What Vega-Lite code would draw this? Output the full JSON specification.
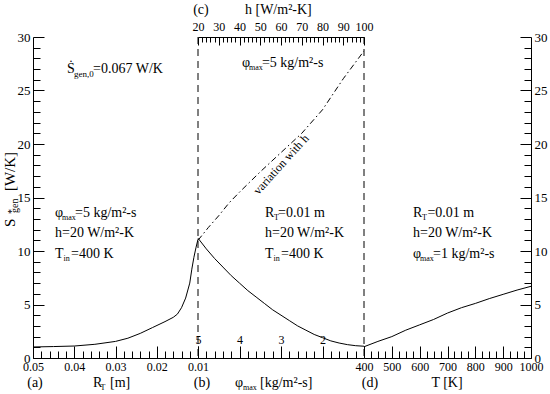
{
  "$schema": "https://vega.github.io/schema/vega-lite/v6.json",
  "width": 498,
  "height": 321,
  "autosize": {"type": "none"},
  "padding": {"left": 33, "top": 37, "right": 19, "bottom": 36},
  "background": "white",
  "config": {
    "view": {"stroke": null},
    "font": "Times New Roman, Liberation Serif, DejaVu Serif, serif",
    "text": {"font": "Times New Roman, Liberation Serif, DejaVu Serif, serif", "color": "black"},
    "axis": {"domainColor": "black", "tickColor": "black", "labelColor": "black", "labelFont": "Times New Roman, Liberation Serif, DejaVu Serif, serif", "labelFontSize": 12, "grid": false, "labelFlush": false, "labelOverlap": false, "domainWidth": 1, "tickWidth": 1}
  },
  "datasets": {
    "a_curve": [{"R":0.05,"S":1.03},{"R":0.045,"S":1.07},{"R":0.04,"S":1.12},{"R":0.035,"S":1.28},{"R":0.03,"S":1.55},{"R":0.027,"S":1.85},{"R":0.024,"S":2.3},{"R":0.021,"S":2.85},{"R":0.018,"S":3.4},{"R":0.016,"S":3.8},{"R":0.015,"S":4.1},{"R":0.014,"S":4.7},{"R":0.013,"S":5.6},{"R":0.012,"S":7.0},{"R":0.0115,"S":8.3},{"R":0.011,"S":9.4},{"R":0.0105,"S":10.3},{"R":0.01,"S":11.1}],
    "b_curve": [{"phi":5.0,"S":11.2},{"phi":4.8,"S":10.2},{"phi":4.6,"S":9.3},{"phi":4.4,"S":8.5},{"phi":4.2,"S":7.7},{"phi":4.0,"S":7.0},{"phi":3.8,"S":6.3},{"phi":3.6,"S":5.7},{"phi":3.4,"S":5.1},{"phi":3.2,"S":4.5},{"phi":3.0,"S":4.0},{"phi":2.8,"S":3.5},{"phi":2.6,"S":3.0},{"phi":2.4,"S":2.6},{"phi":2.2,"S":2.2},{"phi":2.0,"S":1.9},{"phi":1.8,"S":1.6},{"phi":1.6,"S":1.4},{"phi":1.4,"S":1.25},{"phi":1.2,"S":1.15},{"phi":1.0,"S":1.1}],
    "d_curve": [{"T":400,"S":1.05},{"T":450,"S":1.55},{"T":500,"S":2.0},{"T":550,"S":2.6},{"T":600,"S":3.1},{"T":650,"S":3.6},{"T":700,"S":4.2},{"T":750,"S":4.7},{"T":800,"S":5.1},{"T":850,"S":5.55},{"T":900,"S":5.95},{"T":950,"S":6.35},{"T":1000,"S":6.7}],
    "h_curve": [{"h":20,"S":11.0},{"h":25,"S":12.2},{"h":30,"S":13.3},{"h":35,"S":14.5},{"h":40,"S":15.5},{"h":50,"S":17.4},{"h":60,"S":19.2},{"h":70,"S":21.0},{"h":80,"S":23.2},{"h":90,"S":26.1},{"h":100,"S":28.7}],
    "a_text": [{"R":0.04176,"S":26.64,"t":"Ṡ"},{"R":0.03545,"S":26.64,"t":"=0.067 W/K"},{"R":0.04467,"S":13.18,"t":"φ"},{"R":0.03982,"S":13.18,"t":"=5 kg/m²-s"},{"R":0.04467,"S":11.31,"t":"h=20 W/m²-K"},{"R":0.04467,"S":9.35,"t":"T"},{"R":0.04079,"S":9.35,"t":"=400 K"},{"R":0.03545,"S":-2.71,"t":"R"},{"R":0.03133,"S":-2.71,"t":"[m]"}],
    "a_sub9": [{"R":0.04006,"S":26.64,"t":"gen,0"}],
    "a_sub8": [{"R":0.04297,"S":13.18,"t":"max"},{"R":0.04261,"S":9.35,"t":"in"},{"R":0.03364,"S":-2.71,"t":"T"}],
    "a_center": [{"R":0.04952,"S":-2.71,"t":"(a)"}],
    "a_rot": [{"R":0.05436,"S":12.24,"t":"S"},{"R":0.05436,"S":15.6,"t":"[W/K]"}],
    "a_rot_small": [{"R":0.05436,"S":13.46,"t":"*"},{"R":0.05364,"S":13.55,"t":"gen"}],
    "b_text": [{"phi":3.386,"S":13.18,"t":"R"},{"phi":3.072,"S":13.18,"t":"=0.01 m"},{"phi":3.386,"S":11.31,"t":"h=20 W/m²-K"},{"phi":3.386,"S":9.35,"t":"T"},{"phi":3.0,"S":9.35,"t":"=400 K"},{"phi":4.108,"S":-2.71,"t":"φ"},{"phi":3.506,"S":-2.71,"t":"[kg/m²-s]"}],
    "b_sub": [{"phi":3.169,"S":13.18,"t":"T"},{"phi":3.18,"S":9.35,"t":"in"},{"phi":3.916,"S":-2.71,"t":"max"}],
    "b_center": [{"phi":4.904,"S":-2.71,"t":"(b)"}],
    "d_text": [{"T":576,"S":13.18,"t":"R"},{"T":628,"S":13.18,"t":"=0.01 m"},{"T":576,"S":11.31,"t":"h=20 W/m²-K"},{"T":576,"S":9.35,"t":"φ"},{"T":648,"S":9.35,"t":"=1 kg/m²-s"}],
    "d_sub": [{"T":608.5,"S":13.18,"t":"T"},{"T":601,"S":9.35,"t":"max"}],
    "d_center": [{"T":421.6,"S":-2.71,"t":"(d)"},{"T":698.2,"S":-2.71,"t":"T [K]"}],
    "h_text": [{"h":41.2,"S":27.2,"t":"φ"},{"h":50.8,"S":27.2,"t":"=5 kg/m²-s"},{"h":42.65,"S":32.15,"t":"h [W/m²-K]"}],
    "h_sub": [{"h":44.6,"S":27.2,"t":"max"}],
    "h_center": [{"h":21.4,"S":32.15,"t":"(c)"}],
    "h_rot": [{"h":60.0,"S":18.1,"t":"variation with h"}],
    "a_rule": [{"R":0.01}],
    "d_rule": [{"T":400}]
  },
  "layer": [
    {"data":{"name":"a_curve"},"mark":{"type":"line","color":"black","strokeWidth":1},
     "encoding":{"x":{"field":"R","type":"quantitative","scale":{"domain":[0.05,0.01],"range":[0,165],"nice":false,"zero":false},"axis":{"orient":"bottom","values":[0.05,0.04,0.03,0.02,0.01],"format":".2f","tickSize":-12,"labelPadding":15,"title":null}},
                 "y":{"field":"S","type":"quantitative","scale":{"domain":[0,30],"nice":false,"zero":false},"axis":{"orient":"left","values":[0,5,10,15,20,25,30],"tickSize":-11,"labelPadding":14,"labelFontSize":13,"title":null}}}},
    {"data":{"name":"a_rule"},"mark":{"type":"rule","color":"black","strokeWidth":1,"strokeDash":[7,5]},
     "encoding":{"x":{"field":"R","type":"quantitative","scale":{"domain":[0.05,0.01],"range":[0,165],"nice":false,"zero":false},"axis":null}}},
    {"data":{"name":"a_text"},"mark":{"type":"text","fontSize":14,"align":"left","baseline":"alphabetic","color":"black"},
     "encoding":{"x":{"field":"R","type":"quantitative","scale":{"domain":[0.05,0.01],"range":[0,165],"nice":false,"zero":false},"axis":{"orient":"bottom","values":[0.048,0.046,0.044,0.042,0.038,0.036,0.034,0.032,0.028,0.026,0.024,0.022,0.018,0.016,0.014,0.012],"tickSize":-7,"labels":false,"domain":false,"title":null}},
                 "y":{"field":"S","type":"quantitative","scale":{"domain":[0,30],"nice":false,"zero":false},"axis":{"orient":"left","values":[1,2,3,4,6,7,8,9,11,12,13,14,16,17,18,19,21,22,23,24,26,27,28,29],"tickSize":-7,"labels":false,"domain":false,"title":null}},
                 "text":{"field":"t"}}},
    {"data":{"name":"a_sub9"},"mark":{"type":"text","fontSize":9,"align":"left","baseline":"alphabetic","dy":4,"color":"black"},
     "encoding":{"x":{"field":"R","type":"quantitative","scale":{"domain":[0.05,0.01],"range":[0,165],"nice":false,"zero":false},"axis":null},
                 "y":{"field":"S","type":"quantitative","scale":{"domain":[0,30],"nice":false,"zero":false},"axis":null},"text":{"field":"t"}}},
    {"data":{"name":"a_sub8"},"mark":{"type":"text","fontSize":8,"align":"left","baseline":"alphabetic","dy":3,"color":"black"},
     "encoding":{"x":{"field":"R","type":"quantitative","scale":{"domain":[0.05,0.01],"range":[0,165],"nice":false,"zero":false},"axis":null},
                 "y":{"field":"S","type":"quantitative","scale":{"domain":[0,30],"nice":false,"zero":false},"axis":null},"text":{"field":"t"}}},
    {"data":{"name":"a_center"},"mark":{"type":"text","fontSize":14,"align":"center","baseline":"alphabetic","color":"black"},
     "encoding":{"x":{"field":"R","type":"quantitative","scale":{"domain":[0.05,0.01],"range":[0,165],"nice":false,"zero":false},"axis":null},
                 "y":{"field":"S","type":"quantitative","scale":{"domain":[0,30],"nice":false,"zero":false},"axis":null},"text":{"field":"t"}}},
    {"data":{"name":"a_rot"},"mark":{"type":"text","fontSize":15,"align":"left","baseline":"alphabetic","angle":270,"color":"black"},
     "encoding":{"x":{"field":"R","type":"quantitative","scale":{"domain":[0.05,0.01],"range":[0,165],"nice":false,"zero":false},"axis":null},
                 "y":{"field":"S","type":"quantitative","scale":{"domain":[0,30],"nice":false,"zero":false},"axis":null},"text":{"field":"t"}}},
    {"data":{"name":"a_rot_small"},"mark":{"type":"text","fontSize":10,"align":"left","baseline":"alphabetic","angle":270,"color":"black"},
     "encoding":{"x":{"field":"R","type":"quantitative","scale":{"domain":[0.05,0.01],"range":[0,165],"nice":false,"zero":false},"axis":null},
                 "y":{"field":"S","type":"quantitative","scale":{"domain":[0,30],"nice":false,"zero":false},"axis":null},"text":{"field":"t"}}},

    {"data":{"name":"b_curve"},"mark":{"type":"line","color":"black","strokeWidth":1},
     "encoding":{"x":{"field":"phi","type":"quantitative","scale":{"domain":[5,1],"range":[165,331],"nice":false,"zero":false},"axis":{"orient":"top","offset":-321,"values":[5,4,3,2],"format":"d","tickSize":12,"labelPadding":0,"title":null}},
                 "y":{"field":"S","type":"quantitative","scale":{"domain":[0,30],"nice":false,"zero":false},"axis":null}}},
    {"data":{"name":"b_text"},"mark":{"type":"text","fontSize":14,"align":"left","baseline":"alphabetic","color":"black"},
     "encoding":{"x":{"field":"phi","type":"quantitative","scale":{"domain":[5,1],"range":[165,331],"nice":false,"zero":false},"axis":{"orient":"top","offset":-321,"values":[4.8,4.6,4.4,4.2,3.8,3.6,3.4,3.2,2.8,2.6,2.4,2.2,1.8,1.6,1.4,1.2],"tickSize":7,"labels":false,"domain":false,"title":null}},
                 "y":{"field":"S","type":"quantitative","scale":{"domain":[0,30],"nice":false,"zero":false},"axis":null},"text":{"field":"t"}}},
    {"data":{"name":"b_sub"},"mark":{"type":"text","fontSize":8,"align":"left","baseline":"alphabetic","dy":3,"color":"black"},
     "encoding":{"x":{"field":"phi","type":"quantitative","scale":{"domain":[5,1],"range":[165,331],"nice":false,"zero":false},"axis":null},
                 "y":{"field":"S","type":"quantitative","scale":{"domain":[0,30],"nice":false,"zero":false},"axis":null},"text":{"field":"t"}}},
    {"data":{"name":"b_center"},"mark":{"type":"text","fontSize":14,"align":"center","baseline":"alphabetic","color":"black"},
     "encoding":{"x":{"field":"phi","type":"quantitative","scale":{"domain":[5,1],"range":[165,331],"nice":false,"zero":false},"axis":null},
                 "y":{"field":"S","type":"quantitative","scale":{"domain":[0,30],"nice":false,"zero":false},"axis":null},"text":{"field":"t"}}},

    {"data":{"name":"d_curve"},"mark":{"type":"line","color":"black","strokeWidth":1},
     "encoding":{"x":{"field":"T","type":"quantitative","scale":{"domain":[400,1000],"range":[331,498],"nice":false,"zero":false},"axis":{"orient":"bottom","values":[400,500,600,700,800,900,1000],"format":"d","tickSize":-12,"labelPadding":15,"title":null}},
                 "y":{"field":"S","type":"quantitative","scale":{"domain":[0,30],"nice":false,"zero":false},"axis":{"orient":"right","values":[0,5,10,15,20,25,30],"tickSize":-11,"labelPadding":14,"labelFontSize":13,"title":null}}}},
    {"data":{"name":"d_rule"},"mark":{"type":"rule","color":"black","strokeWidth":1,"strokeDash":[7,5]},
     "encoding":{"x":{"field":"T","type":"quantitative","scale":{"domain":[400,1000],"range":[331,498],"nice":false,"zero":false},"axis":null}}},
    {"data":{"name":"d_text"},"mark":{"type":"text","fontSize":14,"align":"left","baseline":"alphabetic","color":"black"},
     "encoding":{"x":{"field":"T","type":"quantitative","scale":{"domain":[400,1000],"range":[331,498],"nice":false,"zero":false},"axis":{"orient":"bottom","values":[425,450,475,525,550,575,625,650,675,725,750,775,825,850,875,925,950,975],"tickSize":-7,"labels":false,"domain":false,"title":null}},
                 "y":{"field":"S","type":"quantitative","scale":{"domain":[0,30],"nice":false,"zero":false},"axis":{"orient":"right","values":[1,2,3,4,6,7,8,9,11,12,13,14,16,17,18,19,21,22,23,24,26,27,28,29],"tickSize":-7,"labels":false,"domain":false,"title":null}},
                 "text":{"field":"t"}}},
    {"data":{"name":"d_sub"},"mark":{"type":"text","fontSize":8,"align":"left","baseline":"alphabetic","dy":3,"color":"black"},
     "encoding":{"x":{"field":"T","type":"quantitative","scale":{"domain":[400,1000],"range":[331,498],"nice":false,"zero":false},"axis":null},
                 "y":{"field":"S","type":"quantitative","scale":{"domain":[0,30],"nice":false,"zero":false},"axis":null},"text":{"field":"t"}}},
    {"data":{"name":"d_center"},"mark":{"type":"text","fontSize":14,"align":"center","baseline":"alphabetic","color":"black"},
     "encoding":{"x":{"field":"T","type":"quantitative","scale":{"domain":[400,1000],"range":[331,498],"nice":false,"zero":false},"axis":null},
                 "y":{"field":"S","type":"quantitative","scale":{"domain":[0,30],"nice":false,"zero":false},"axis":null},"text":{"field":"t"}}},

    {"data":{"name":"h_curve"},"mark":{"type":"line","color":"black","strokeWidth":1,"strokeDash":[6,3,1.5,3]},
     "encoding":{"x":{"field":"h","type":"quantitative","scale":{"domain":[20,100],"range":[165,331],"nice":false,"zero":false},"axis":{"orient":"top","values":[20,30,40,50,60,70,80,90,100],"format":"d","tickSize":-8,"labelPadding":12,"title":null}},
                 "y":{"field":"S","type":"quantitative","scale":{"domain":[0,30],"nice":false,"zero":false},"axis":null}}},
    {"data":{"name":"h_text"},"mark":{"type":"text","fontSize":14,"align":"left","baseline":"alphabetic","color":"black"},
     "encoding":{"x":{"field":"h","type":"quantitative","scale":{"domain":[20,100],"range":[165,331],"nice":false,"zero":false},"axis":{"orient":"top","values":[22,24,26,28,32,34,36,38,42,44,46,48,52,54,56,58,62,64,66,68,72,74,76,78,82,84,86,88,92,94,96,98],"tickSize":-5,"labels":false,"domain":false,"title":null}},
                 "y":{"field":"S","type":"quantitative","scale":{"domain":[0,30],"nice":false,"zero":false},"axis":null},"text":{"field":"t"}}},
    {"data":{"name":"h_sub"},"mark":{"type":"text","fontSize":8,"align":"left","baseline":"alphabetic","dy":3,"color":"black"},
     "encoding":{"x":{"field":"h","type":"quantitative","scale":{"domain":[20,100],"range":[165,331],"nice":false,"zero":false},"axis":null},
                 "y":{"field":"S","type":"quantitative","scale":{"domain":[0,30],"nice":false,"zero":false},"axis":null},"text":{"field":"t"}}},
    {"data":{"name":"h_center"},"mark":{"type":"text","fontSize":14,"align":"center","baseline":"alphabetic","color":"black"},
     "encoding":{"x":{"field":"h","type":"quantitative","scale":{"domain":[20,100],"range":[165,331],"nice":false,"zero":false},"axis":null},
                 "y":{"field":"S","type":"quantitative","scale":{"domain":[0,30],"nice":false,"zero":false},"axis":null},"text":{"field":"t"}}},
    {"data":{"name":"h_rot"},"mark":{"type":"text","fontSize":12,"align":"center","baseline":"middle","angle":312,"color":"black"},
     "encoding":{"x":{"field":"h","type":"quantitative","scale":{"domain":[20,100],"range":[165,331],"nice":false,"zero":false},"axis":null},
                 "y":{"field":"S","type":"quantitative","scale":{"domain":[0,30],"nice":false,"zero":false},"axis":null},"text":{"field":"t"}}}
  ],
  "resolve": {"scale": {"x": "independent", "y": "independent"}, "axis": {"x": "independent", "y": "independent"}}
}
